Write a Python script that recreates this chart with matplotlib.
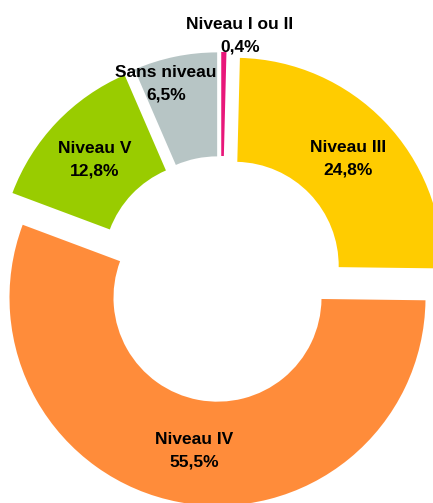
import matplotlib.pyplot as plt

plt.rcParams['font.family'] = ['Liberation Sans', 'DejaVu Sans']

# Data (clockwise from the top)
labels = ["Niveau I ou II", "Niveau III", "Niveau IV", "Niveau V", "Sans niveau"]
shares = [0.4, 24.8, 55.5, 12.8, 6.5]
colors = ["#E8177A", "#FFCC00", "#FF8C3A", "#99CC00", "#B7C5C5"]

# label positions in pixels (x, y from top)
label_pos = [(240, 36), (348, 159), (194, 451), (95, 160), (166, 84)]

W, H = 433, 503
fig = plt.figure(figsize=(W / 100, H / 100), dpi=100)
ax = fig.add_axes([0, 0, 1, 1])

cx, cy = 221, H - 279
ax.pie(shares, colors=colors, startangle=90, counterclock=False,
       radius=208, center=(cx, cy), explode=[19] * len(shares),
       wedgeprops=dict(width=104, linewidth=0))

for lab, val, (px, py) in zip(labels, shares, label_pos):
    txt = lab + "\n" + f"{val:.1f}%".replace(".", ",")
    ax.text(px, H - py, txt, ha="center", va="center", fontsize=12.5,
            fontweight="bold", linespacing=1.6, color="black")

ax.set_xlim(0, W)
ax.set_ylim(0, H)
ax.set_aspect("equal")
ax.axis("off")

plt.savefig("out.png", dpi=100)
